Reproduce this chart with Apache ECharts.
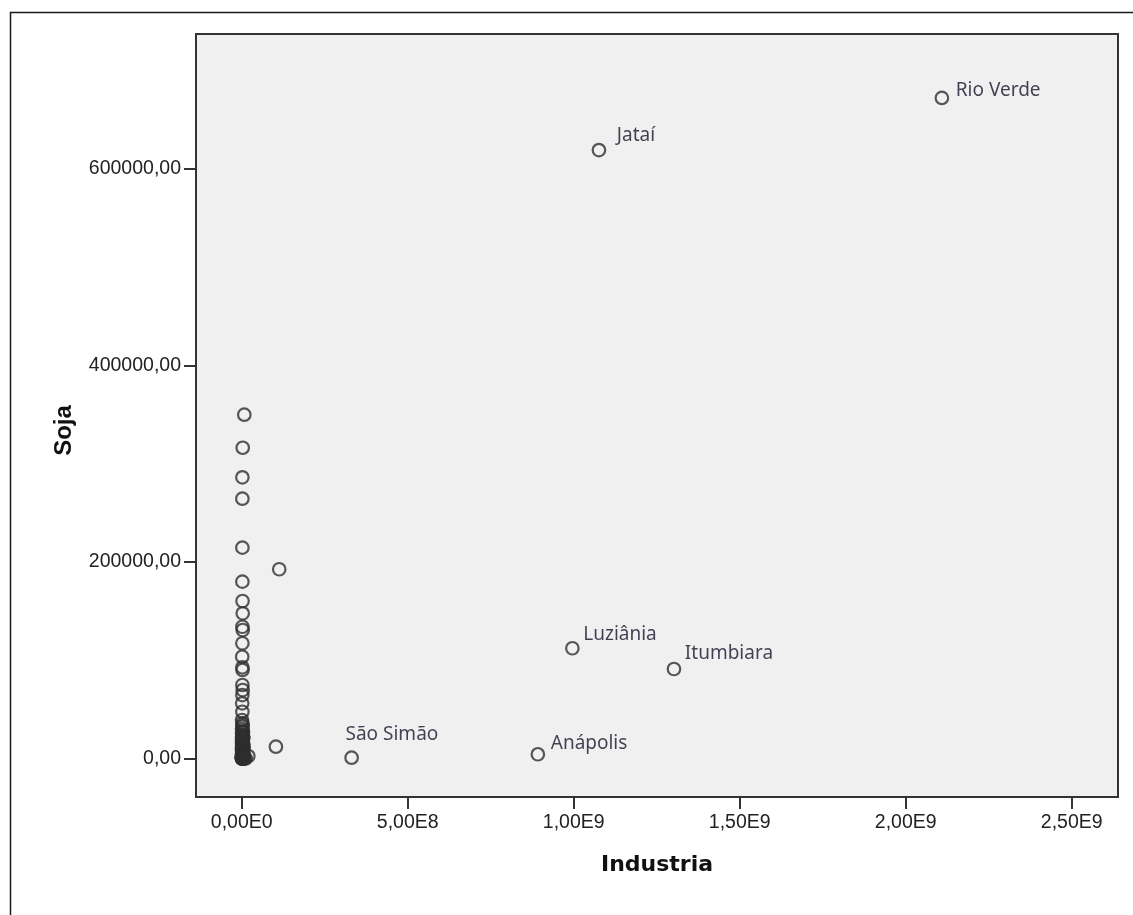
<!DOCTYPE html>
<html>
<head>
<meta charset="utf-8">
<script src="https://cdn.jsdelivr.net/npm/echarts@6/dist/echarts.min.js"></script>
<style>
html,body{margin:0;padding:0;background:#fff;}
#chart{width:1133px;height:915px;}
</style>
</head>
<body>
<div id="chart"></div>
<script>
// ---- data ----
const municipios = ['Rio Verde', 'Jataí', 'Luziânia', 'Itumbiara', 'Anápolis', 'São Simão'];
const industriaNamed = [2.109e9, 1.076e9, 9.96e8, 1.302e9, 8.92e8, 3.31e8];
const sojaNamed = [672300, 619300, 112200, 91100, 4300, 800];

const industriaOther = [
  1.13e8, 1.03e8, 2.0e7,
  7.8e6, 3e6, 2e6, 2e6, 2e6, 2e6, 2.5e6, 3e6, 2e6, 3e6, 2e6, 1.5e6, 2e6, 2.5e6,
  2e6, 3e6, 2e6, 1.5e6, 2e6, 1e6, 2e6,
  3e6, 1e6, 2e6, 4e6, 1e6, 2e6, 3e6, 1e6, 2e6, 5e6, 1e6, 2e6, 3e6, 1e6, 2e6,
  4e6, 1e6, 2e6, 3e6, 1e6, 2e6, 6e6, 1e6, 2e6, 3e6, 1e6, 2e6, 4e6, 1e6, 2e6,
  8e6, 5e5, 1e6, 2e6, 3e6, 4e6, 5e6, 6e6, 7e6, 1.2e7, 5e5, 1.5e6, 2.5e6, 3.5e6,
  2e6, 3e6, 1e6, 4e6, 2e6, 5e6, 1e6, 3e6, 2e6, 6e6, 1e6, 2e6, 3e6, 4e6, 2e6,
  1e6, 3e6, 2e6, 5e6, 1e6, 2e6, 3e6, 4e6, 1e6, 2e6
];
const sojaOther = [
  192600, 12000, 2500,
  349900, 316300, 286200, 264400, 214600, 180000, 160300, 147800, 134100, 130800, 117300, 103600, 92800, 90100,
  74800, 69700, 64600, 56200, 47600, 39200, 32400,
  28000, 26000, 24000, 22000, 20500, 19000, 17500, 16000, 15000, 14000, 13000, 12000, 11000, 10000, 9200,
  8400, 7600, 6800, 6000, 5300, 4600, 4000, 3400, 2900, 2400, 2000, 1600, 1200, 900, 600,
  400, 250, 150, 80, 40, 20, 0, 0, 0, 0, 0, 0, 0, 0,
  36000, 34000, 30000, 27000, 23000, 21000, 18000, 15500, 13500, 11500, 9800, 8800, 7200, 5600, 4300,
  3100, 2600, 1800, 1400, 1000, 700, 500, 300, 100, 0
];

const xTicks = [0, 5e8, 1e9, 1.5e9, 2e9, 2.5e9];
const yTicks = [0, 200000, 400000, 600000];

// ---- styles ----
const SYM = 12.5;
const labelOffsets = {
  'Rio Verde': [15, -6],
  'Jataí': [19, -13],
  'Luziânia': [12, -13],
  'Itumbiara': [12, -14],
  'Anápolis': [14, -10],
  'São Simão': [-5, -22]
};

const namedData = municipios.map((n, i) => ({
  name: n,
  value: [industriaNamed[i], sojaNamed[i]],
  label: {
    show: true,
    formatter: n,
    position: [SYM / 2 + labelOffsets[n][0], SYM / 2 + labelOffsets[n][1]],
    align: 'left',
    verticalAlign: 'middle'
  }
}));
const otherData = industriaOther.map((x, i) => [x, sojaOther[i]]);

const fmtX = v => {
  const s = Number(v).toExponential(2);
  const [m, e] = s.split('e');
  return m.replace('.', ',') + 'E' + parseInt(e, 10);
};
const fmtY = v => Number(v).toFixed(2).replace('.', ',');

const chart = echarts.init(document.getElementById('chart'), null, {renderer: 'canvas'});
const itemStyle = {color: 'rgba(0,0,0,0)', borderColor: '#2e2e2e', borderWidth: 2.2};

chart.setOption({
  animation: false,
  backgroundColor: '#ffffff',
  graphic: [{
    type: 'rect',
    left: 8, top: 10,
    shape: {width: 1300, height: 1100},
    style: {fill: 'none', stroke: '#1a1a1a', lineWidth: 1.5},
    z: -10
  }],
  grid: {
    left: 196, top: 34, right: 15, bottom: 118,
    show: true, backgroundColor: '#f0f0f0', borderColor: '#333', borderWidth: 2
  },
  xAxis: {
    type: 'value',
    min: -1.377e8, max: 2.6395e9,
    name: 'Industria',
    nameLocation: 'middle',
    nameGap: 57,
    nameTextStyle: {fontFamily: 'DejaVu Sans', fontWeight: 'bold', fontSize: 22, color: '#111'},
    axisLine: {show: true, onZero: false, lineStyle: {color: '#333', width: 2}},
    axisTick: {show: true, customValues: xTicks, length: 12, lineStyle: {color: '#333', width: 2}},
    axisLabel: {customValues: xTicks, formatter: fmtX, margin: 16,
      fontFamily: 'Liberation Sans', fontSize: 19.5, color: '#222'},
    splitLine: {show: false}
  },
  yAxis: {
    type: 'value',
    min: -39190, max: 737400,
    name: 'Soja',
    nameLocation: 'middle',
    nameGap: 120,
    nameTextStyle: {fontFamily: 'Liberation Sans', fontWeight: 'bold', fontSize: 24, color: '#111', padding: [0, 30, 0, 0]},
    axisLine: {show: true, onZero: false, lineStyle: {color: '#333', width: 2}},
    axisTick: {show: true, customValues: yTicks, length: 12, lineStyle: {color: '#333', width: 2}},
    axisLabel: {customValues: yTicks, formatter: fmtY, margin: 15,
      fontFamily: 'Liberation Sans', fontSize: 19.5, color: '#222'},
    splitLine: {show: false}
  },
  series: [{
    type: 'scatter',
    symbol: 'circle',
    symbolSize: SYM,
    itemStyle: itemStyle,
    data: otherData,
    z: 2
  }, {
    type: 'scatter',
    symbol: 'circle',
    symbolSize: SYM,
    itemStyle: itemStyle,
    label: {fontFamily: 'Noto Sans', fontSize: 19, color: '#14142a'},
    labelLayout: {hideOverlap: false},
    data: namedData,
    z: 3
  }]
});
</script>
</body>
</html>
